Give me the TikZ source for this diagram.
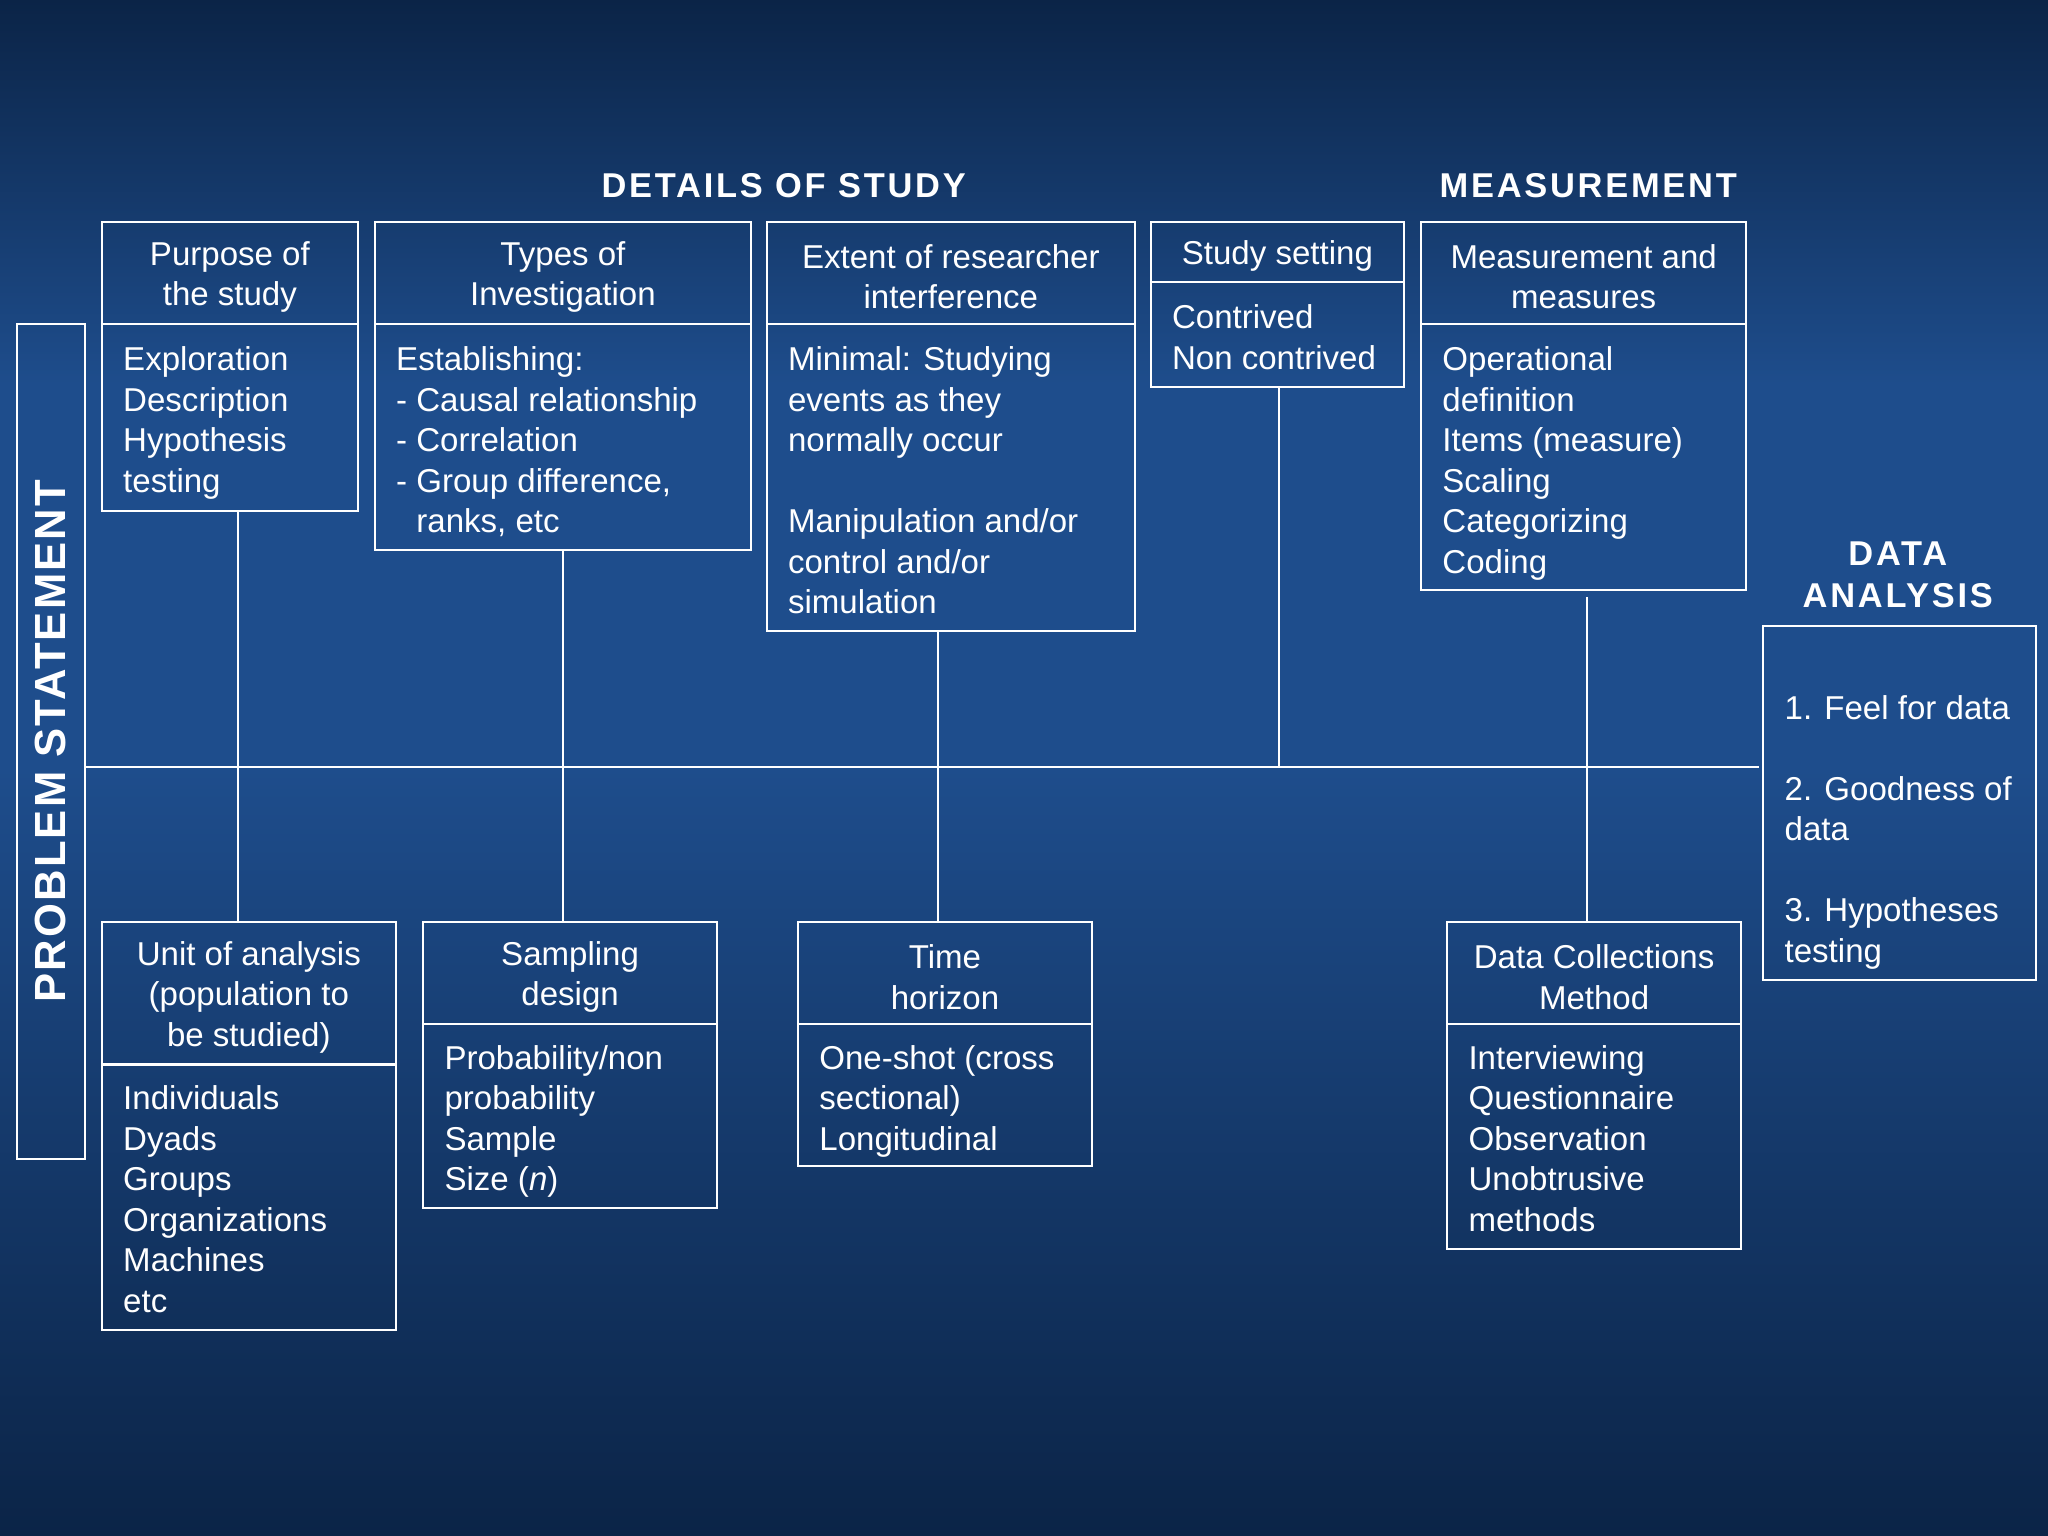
\documentclass[tikz,border=0pt]{standalone}
\usepackage{fontspec}
\setmainfont{Liberation Sans}
\usetikzlibrary{fit}
\definecolor{bgtop}{HTML}{0B2447}
\definecolor{bgmid}{HTML}{1E4D8C}
\definecolor{bgbot}{HTML}{143A6E}
\begin{document}
\begin{tikzpicture}[x=0.02cm,y=-0.02cm,
  box/.style={draw=white,line width=0.9pt,inner sep=0pt},
  ln/.style={draw=white,line width=0.9pt},
  txt/.style={text=white,font=\fontsize{14.4}{17.65}\selectfont,inner sep=0pt,align=left,anchor=north west},
  hd/.style={text=white,font=\fontsize{14.4}{17.65}\selectfont,inner sep=0pt,align=center},
  ttl/.style={text=white,font=\fontsize{15}{18.5}\selectfont\bfseries\addfontfeature{LetterSpace=8},inner sep=0pt,align=center}]
\shade[top color=bgtop,bottom color=bgmid,middle color=bgmid] (0,0) rectangle (1568,588);
\shade[top color=bgmid,bottom color=bgtop] (0,588) rectangle (1568,1176);
\useasboundingbox (0,0) rectangle (1568,1176);
% titles
\node[ttl] (t1) at (600,142) {DETAILS OF STUDY};
\node[ttl] (t2) at (1216,142) {MEASUREMENT};
\node[ttl] (t3) at (1453,440) {DATA\\ANALYSIS};
% problem statement
\node[box,fit={(13,248)(65,887)}] (ps) {};
\node[text=white,font=\fontsize{19}{22}\selectfont\bfseries\addfontfeature{LetterSpace=5},rotate=90,inner sep=0pt] at (ps.center) {PROBLEM STATEMENT};
% top boxes
\node[box,fit={(78,170)(274,248)}] (purH) {};
\node[box,fit={(78,248)(274,391)}] (purB) {};
\node[hd] at ([yshift=-0.06cm]purH.center) {Purpose of\\the study};
\node[txt] at (94,265) {Exploration\\Description\\Hypothesis\\testing};
\node[box,fit={(287,170)(575,248)}] (typH) {};
\node[box,fit={(287,248)(575,421)}] (typB) {};
\node[hd] at ([yshift=-0.06cm]typH.center) {Types of\\Investigation};
\node[txt] at (303,265) {Establishing:\\- Causal relationship\\- Correlation\\- Group difference,\\\phantom{- }ranks, etc};
\node[box,fit={(587,170)(869,248)}] (extH) {};
\node[box,fit={(587,248)(869,483)}] (extB) {};
\node[hd] at ([yshift=-0.06cm]extH.center) {Extent of researcher\\interference};
\node[txt] at (603,265) {Minimal: Studying\\events as they\\normally occur\\[17.65pt]Manipulation and/or\\control and/or\\simulation};
\node[box,fit={(881,170)(1075,216)}] (setH) {};
\node[box,fit={(881,216)(1075,296)}] (setB) {};
\node[hd] at ([yshift=-0.06cm]setH.center) {Study setting};
\node[txt] at (897,233) {Contrived\\Non contrived};
\node[box,fit={(1088,170)(1337,248)}] (meaH) {};
\node[box,fit={(1088,248)(1337,452)}] (meaB) {};
\node[hd] at ([yshift=-0.06cm]meaH.center) {Measurement and\\measures};
\node[txt] at (1104,265) {Operational\\definition\\Items (measure)\\Scaling\\Categorizing\\Coding};
% data analysis
\node[box,fit={(1350,479)(1559,750)}] (da) {};
\node[txt] at (1366,532) {1. Feel for data\\[17.65pt]2. Goodness of\\data\\[17.65pt]3. Hypotheses\\testing};
% bottom boxes
\node[box,fit={(78,706)(303,815)}] (uniH) {};
\node[box,fit={(78,815)(303,1018)}] (uniB) {};
\node[hd] at ([yshift=-0.06cm]uniH.center) {Unit of analysis\\(population to\\be studied)};
\node[txt] at (94,831) {Individuals\\Dyads\\Groups\\Organizations\\Machines\\etc};
\node[box,fit={(324,706)(549,784)}] (samH) {};
\node[box,fit={(324,784)(549,925)}] (samB) {};
\node[hd] at ([yshift=-0.06cm]samH.center) {Sampling\\design};
\node[txt] at (340,800) {Probability/non\\probability\\Sample\\Size (\textit{n})};
\node[box,fit={(611,706)(836,784)}] (timH) {};
\node[box,fit={(611,784)(836,893)}] (timB) {};
\node[hd] at ([yshift=-0.06cm]timH.center) {Time\\horizon};
\node[txt] at (627,800) {One-shot (cross\\sectional)\\Longitudinal};
\node[box,fit={(1108,706)(1333,784)}] (dcH) {};
\node[box,fit={(1108,784)(1333,956)}] (dcB) {};
\node[hd] at ([yshift=-0.06cm]dcH.center) {Data Collections\\Method};
\node[txt] at (1124,800) {Interviewing\\Questionnaire\\Observation\\Unobtrusive\\methods};
% connectors
\coordinate (hl) at (1347,587);
\draw[ln] (ps.east |- hl) -- (hl);
\draw[ln] (182,0 |- purB.south) -- (182,0 |- uniH.north);
\draw[ln] (431,0 |- typB.south) -- (431,0 |- samH.north);
\draw[ln] (718,0 |- extB.south) -- (718,0 |- timH.north);
\draw[ln] (979,0 |- setB.south) -- (979,0 |- hl);
\draw[ln] (1215,457) -- (1215,0 |- dcH.north);
\end{tikzpicture}
\end{document}
